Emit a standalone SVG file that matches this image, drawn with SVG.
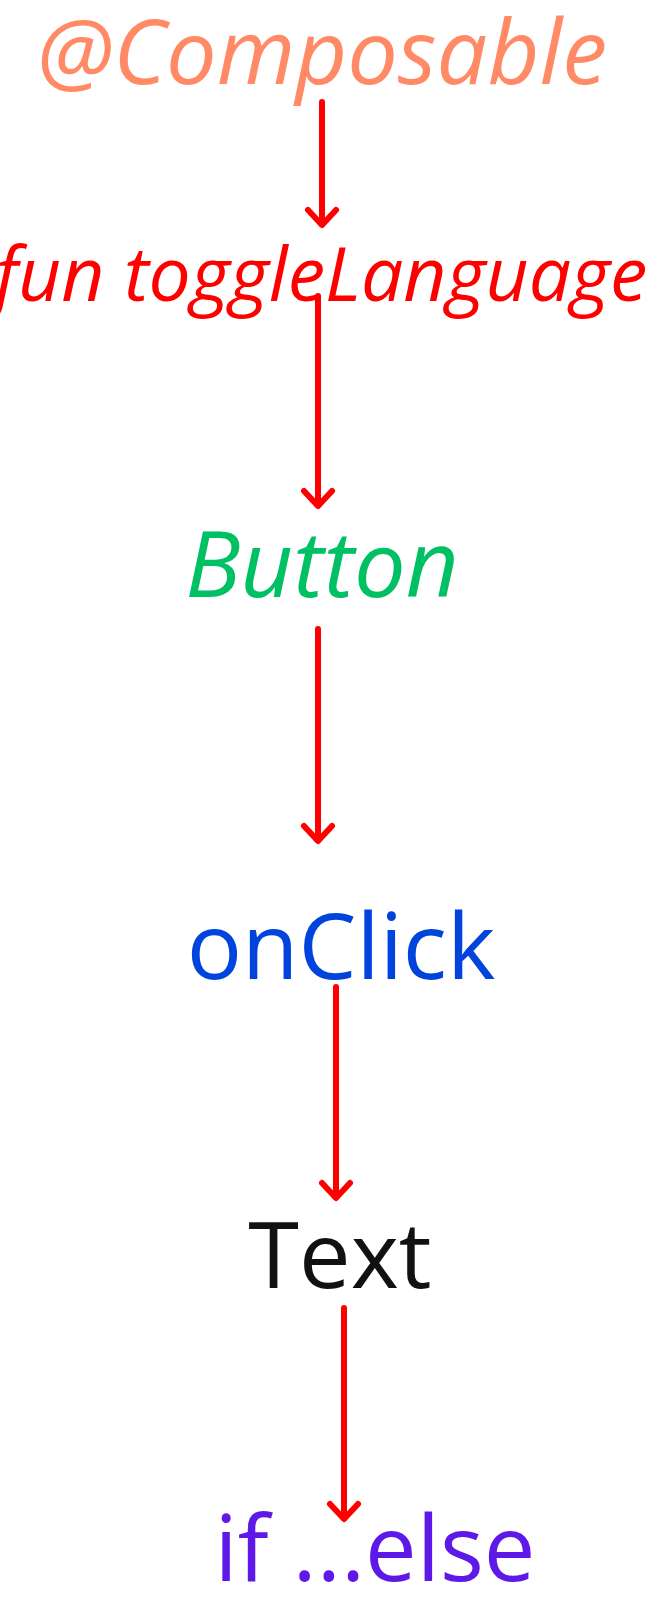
<svg xmlns="http://www.w3.org/2000/svg" width="655" height="1599" viewBox="0 0 655 1599">
<style>
.t{font-family:"Open Sans","DejaVu Sans",sans-serif;font-size:92px;text-anchor:middle}
.i{font-style:italic}
.c{fill:none;stroke:#ff0000;stroke-width:6;stroke-linecap:round;stroke-linejoin:round}
.h{fill:none;stroke:#ff0000;stroke-width:6;stroke-linecap:round;stroke-linejoin:round}
</style>
<rect width="655" height="1599" fill="#ffffff"/>
<g id="n1"><text class="t i" x="322" y="84" fill="#ff8a65" style="font-size:90px">@Composable</text></g>
<g id="n2"><text class="t i" x="321" y="301" fill="#ff0000" style="font-size:75px">fun toggleLanguage</text></g>
<g id="n3"><text class="t i" x="322" y="597" fill="#00c064">Button</text></g>
<g id="n4"><text class="t" x="341" y="979" fill="#0044dd">onClick</text></g>
<g id="n5"><text class="t" x="340" y="1288" fill="#111111">Text</text></g>
<g id="n6"><text class="t" x="375" y="1581" fill="#5e18e8">if ...else</text></g>
<g id="connectors">
<path class="c" d="M322 102V224"/><path class="h" d="M308 210L322 225L336 210"/>
<path class="c" d="M318 296V505"/><path class="h" d="M304 491L318 506L332 491"/>
<path class="c" d="M318 629V840"/><path class="h" d="M304 826L318 841L332 826"/>
<path class="c" d="M336 987V1197"/><path class="h" d="M322 1183L336 1198L350 1183"/>
<path class="c" d="M344 1308V1518"/><path class="h" d="M330 1504L344 1519L358 1504"/>
</g>
</svg>
